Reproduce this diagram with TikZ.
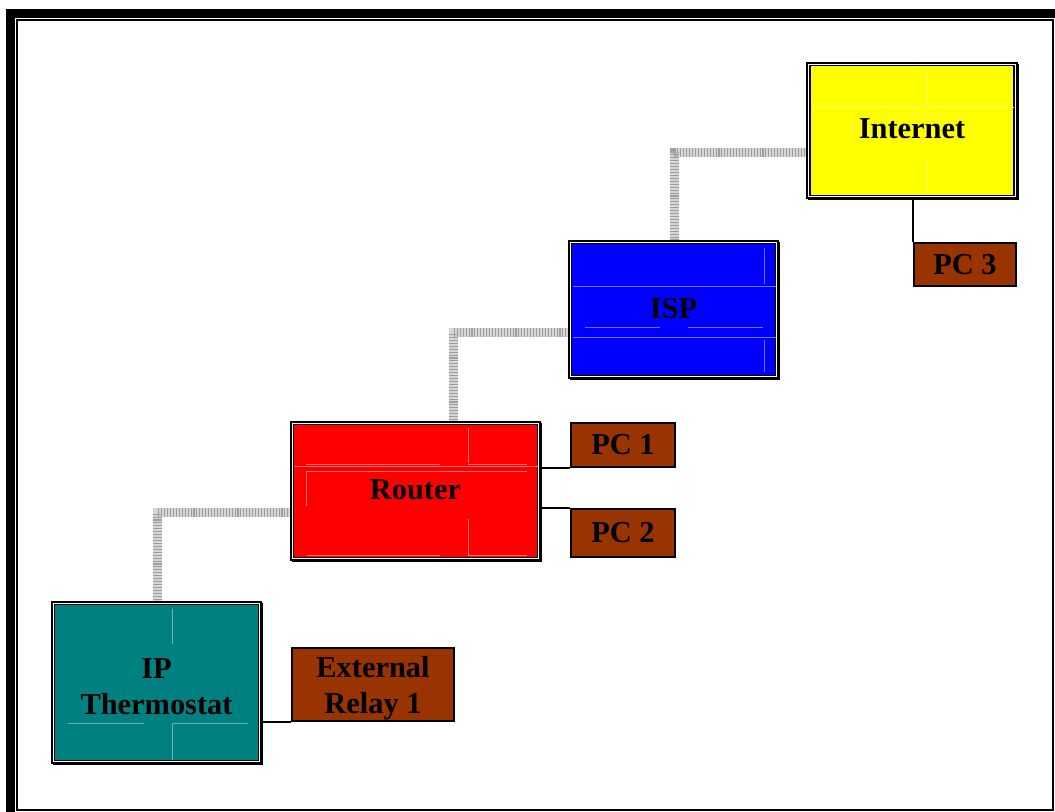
\documentclass[tikz,border=0pt]{standalone}
\usepackage{fontspec}
\setmainfont{Liberation Serif}
\usetikzlibrary{calc,backgrounds}
\definecolor{cyellow}{HTML}{FFFF00}
\definecolor{cblue}{HTML}{0000FF}
\definecolor{cred}{HTML}{FF0000}
\definecolor{cteal}{HTML}{008080}
\definecolor{cbrown}{HTML}{993300}
\newcommand{\uptext}[1]{\raisebox{2.25pt}{#1}}
\newcommand{\twolines}[3]{\raisebox{-#1}[\height][\depth]{\begin{tabular}{@{}c@{}}#2\\#3\end{tabular}}}
\begin{document}
\begin{tikzpicture}[x=0.75pt,y=-0.75pt,
  bigbox/.style={draw=black, double=white, line width=1.25pt, double distance=0.8pt,
    preaction={draw=black, line width=2.2pt, transform canvas={shift={(1.2pt,-1.2pt)}}},
    inner sep=0pt, align=center, font=\fontsize{22.8pt}{26.3pt}\selectfont\bfseries},
  pcbox/.style={draw=black, line width=1.8pt, fill=cbrown, inner sep=0pt, align=center,
    font=\fontsize{22.8pt}{26.3pt}\selectfont\bfseries},
  band/.style={line width=6.9pt, draw=black!16,
    postaction={draw=black!38, line width=6.9pt, dash pattern=on 0.8pt off 1.4pt}},
  wire/.style={draw=black, line width=1.3pt},
  faint/.style={line width=0.6pt}
]
\useasboundingbox (0,0) rectangle (1055,812);
% frame
\fill[black] (6,9) rectangle (1055,18);
\fill[black] (6,9) rectangle (15,812);
\draw[line width=1.5pt] (17,20) rectangle (1053,809.5);

% main boxes
\node[bigbox, fill=cyellow, minimum width=155.5pt, minimum height=99.5pt] (internet) at (912,130.5) {\uptext{Internet}};
\node[bigbox, fill=cblue, minimum width=155pt, minimum height=101pt] (isp) at (673.5,309.5) {\uptext{ISP}};
\node[bigbox, fill=cred, minimum width=185pt, minimum height=101.75pt] (router) at (415.5,491) {\uptext{Router}};
\node[bigbox, fill=cteal, minimum width=155pt, minimum height=119pt] (thermo) at (156.5,682.5) {\twolines{5.25pt}{IP}{Thermostat}};

% small boxes
\node[pcbox, minimum width=76.5pt, minimum height=32.25pt] (pc3) at (965,264.5) {PC 3};
\node[pcbox, minimum width=78pt, minimum height=33pt] (pc1) at (623,445) {PC 1};
\node[pcbox, minimum width=78pt, minimum height=36pt] (pc2) at (623,533) {PC 2};
\node[pcbox, minimum width=121.5pt, minimum height=54.75pt] (relay) at (373,684.5) {\twolines{3pt}{External}{Relay 1}};

% faint interior lines
\begin{scope}[faint]
  \draw[cyellow!60!white] (812,107) -- (1014,107);
  \draw[cyellow!60!white] (927,70) -- (927,105) (927,158) -- (927,195);
  \draw[cblue!55!white] (573,286) -- (776,286) (573,337) -- (776,337);
  \draw[cblue!55!white] (764,248) -- (764,284) (764,340) -- (764,372);
  \draw[cblue!55!white] (585,327) -- (660,327) (688,327) -- (763,327);
  \draw[cred!55!white] (295,466) -- (538,466);
  \draw[cred!55!white] (306,464) -- (440,464) (468,464) -- (527,464);
  \draw[cred!55!white] (306,471) -- (527,471) (306,471) -- (306,506);
  \draw[cred!55!white] (468,428) -- (468,463) (468,519) -- (468,555);
  \draw[cred!55!white] (307,555) -- (440,555) (468,555) -- (527,555);
  \draw[cteal!60!white] (172,609) -- (172,644) (172,724) -- (172,760);
  \draw[cteal!60!white] (68,723) -- (144,723) (172,723) -- (248,723);
\end{scope}

% hatched trunk connectors
\begin{scope}[on background layer]
  \draw[band] ($(internet.west)+(0,22)$) -| ($(isp.north)+(1,0)$);
  \draw[band] ($(isp.west)+(0,23)$) -| ($(router.north)+(38,0)$);
  \draw[band] ($(router.west)+(0,21.5)$) -| ($(thermo.north)+(1,0)$);
\end{scope}

% thin connectors
\draw[wire] (pc3.north west) -- (pc3.north west |- internet.south);
\draw[wire] (pc1.south west) -- (pc1.south west -| router.east);
\draw[wire] (pc2.north west) -- (pc2.north west -| router.east);
\draw[wire] (relay.south west) -- (relay.south west -| thermo.east);
\end{tikzpicture}
\end{document}
